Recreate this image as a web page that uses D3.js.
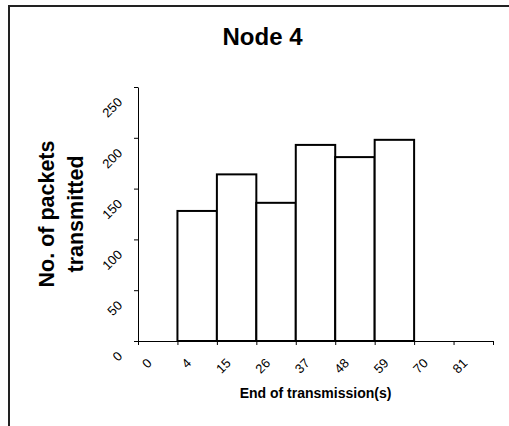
<!DOCTYPE html>
<html>
<head>
<meta charset="utf-8">
<script src="https://cdn.jsdelivr.net/npm/d3@7"></script>
<style>
  body { margin: 0; background: #fff; }
  text { font-family: "Liberation Sans", Arial, sans-serif; fill: #000; }
</style>
</head>
<body>
<div id="chart"></div>
<script>
var width = 509,
    height = 426;

// data
var categories = ["0", "4", "15", "26", "37", "48", "59", "70", "81"];
var packets = [0, 128, 164, 136, 193, 181, 198, 0, 0];
var yTicks = [0, 50, 100, 150, 200, 250];

var plot = {left: 138, right: 493, top: 87, bottom: 341};

var svg = d3.select("#chart").append("svg").attr("width", width).attr("height", height);

// outer chart frame (cut off at right and bottom like the original)
svg.append("rect").attr("x", 9).attr("y", 6).attr("width", 520).attr("height", 440)
    .attr("fill", "none").attr("stroke", "#222").attr("stroke-width", 2);

var x = d3.scaleBand().domain(categories).range([plot.left, plot.right]).padding(0);
var xEdge = d3.scaleLinear().domain([0, categories.length]).range([plot.left, plot.right]);
var y = d3.scaleLinear().domain([0, 250]).range([plot.bottom, plot.top]);

// bars
svg.selectAll("rect.bar").data(packets.map(function(v, i) { return {cat: categories[i], value: v}; })
        .filter(function(d) { return d.value > 0; }))
    .enter().append("rect").attr("class", "bar")
    .attr("x", function(d) { return x(d.cat); })
    .attr("y", function(d) { return y(d.value); })
    .attr("width", x.bandwidth())
    .attr("height", function(d) { return y(0) - y(d.value); })
    .attr("fill", "#fff").attr("stroke", "#000").attr("stroke-width", 2);

// y axis
var yAxis = svg.append("g").attr("transform", "translate(" + plot.left + ",0)")
    .call(d3.axisLeft(y).tickValues(yTicks).tickSize(4).tickSizeOuter(0));
yAxis.attr("font-size", null);
yAxis.selectAll("text")
    .attr("x", null).attr("dy", null)
    .attr("transform", "translate(-15,15.5) rotate(-45)")
    .style("text-anchor", "end").style("font-size", "13px");

// x axis: ticks at the category edges, labels under the centres
var xAxis = svg.append("g").attr("transform", "translate(0," + plot.bottom + ")")
    .call(d3.axisBottom(xEdge).tickValues(d3.range(categories.length + 1)).tickSize(4)
        .tickSizeOuter(0).tickFormat(""));
svg.selectAll("text.xlabel").data(categories).enter().append("text").attr("class", "xlabel")
    .attr("transform", function(d) {
        return "translate(" + (x(d) + x.bandwidth() / 2 - 5) + "," + (plot.bottom + 23) + ") rotate(-45)";
    })
    .style("text-anchor", "end").style("font-size", "13px")
    .text(function(d) { return d; });

svg.selectAll(".domain, .tick line").attr("stroke", "#000");

// titles
svg.append("text").attr("x", 262.5).attr("y", 45).attr("text-anchor", "middle")
    .style("font-size", "24px").style("font-weight", "bold").text("Node 4");

svg.append("text").attr("x", (plot.left + plot.right) / 2).attr("y", 398).attr("text-anchor", "middle")
    .style("font-size", "14px").style("font-weight", "bold").text("End of transmission(s)");

var yTitle = ["No. of packets", "transmitted"];
svg.selectAll("text.ytitle").data(yTitle).enter().append("text").attr("class", "ytitle")
    .attr("transform", function(d, i) {
        return "translate(" + (54 + i * 28.5) + "," + (plot.top + plot.bottom) / 2 + ") rotate(-90)";
    })
    .attr("text-anchor", "middle").style("font-size", "21.5px").style("font-weight", "bold")
    .text(function(d) { return d; });
</script>
</body>
</html>
